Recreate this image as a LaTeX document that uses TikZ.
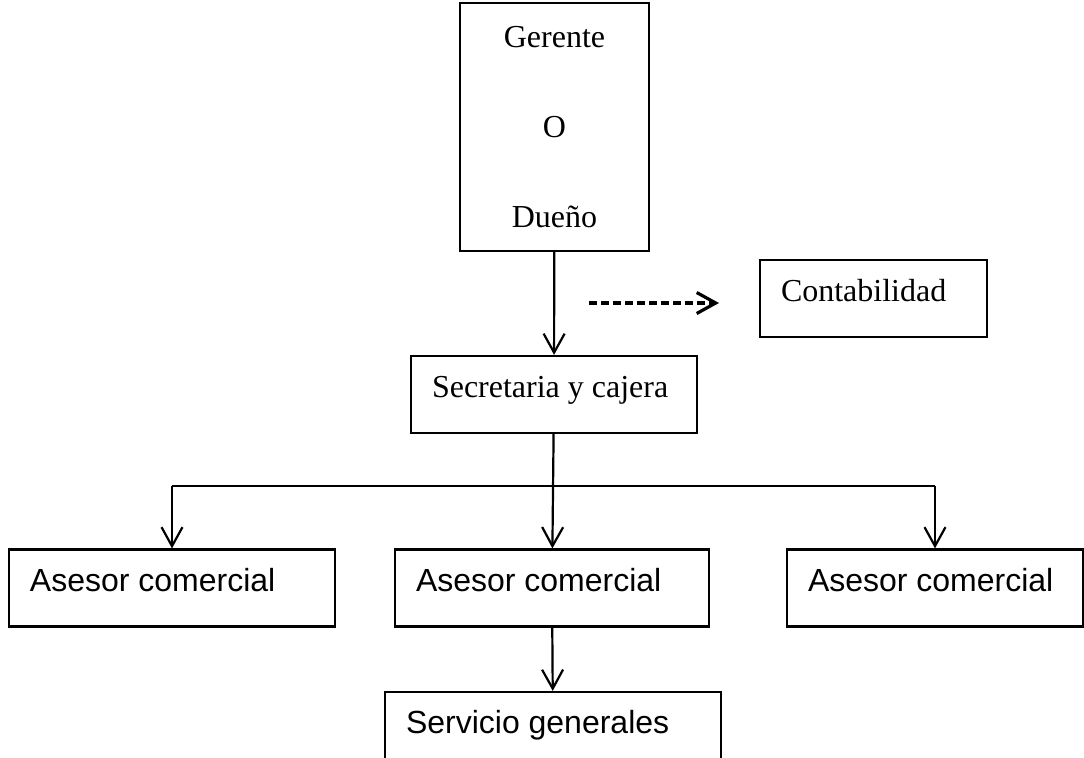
\documentclass[tikz,border=0pt]{standalone}
\usepackage{fontspec}
\setmainfont{Liberation Serif}
\newfontfamily\arialfont{Liberation Sans}
\usetikzlibrary{arrows.meta}
\begin{document}
\begin{tikzpicture}[x=0.5pt,y=-0.5pt,line width=1.1pt,
  box/.style={draw,rectangle,minimum height=38.5pt,inner xsep=10.5pt,align=flush left,
    text height=12pt,text depth=9pt},
  serifbox/.style={box,font=\fontsize{16}{19}\selectfont},
  sansbox/.style={box,font=\arialfont\fontsize{16}{19}\selectfont},
  arr/.style={-{Straight Barb[length=9.5pt,width=10.5pt]}}]
   \clip (0,0) rectangle (1084,757);
   % jefe
   \node[draw,rectangle,minimum width=94.5pt,minimum height=124pt,align=center,
     font=\fontsize{16}{45}\selectfont] (ger) at (554.5,127) {Gerente\\O\\Dueño};
   \node[serifbox,text width=92.5pt] (cont) at (873.5,298.5) {Contabilidad};
   \node[serifbox,text width=122pt] (sec) at (554,394.5) {Secretaria y cajera};
   % asesores
   \node[sansbox,text width=142pt] (as1) at (172,588) {Asesor comercial};
   \node[sansbox,text width=136pt] (as2) at (552,588) {Asesor comercial};
   \node[sansbox,text width=127pt] (as3) at (935,588) {Asesor comercial};
   \node[sansbox,text width=147pt] (serv) at (553,730.5) {Servicio generales};
   \coordinate (bus) at (0,486);
   \coordinate (d1) at (589,303);
   \coordinate (d2) at (719,303);
   \draw[arr] (ger) -- (sec);
   \draw[arr,dash pattern=on 4pt off 2pt,line width=1.6pt] (d1) -- (d2);
   \draw[arr] (sec) -- (as2);
   \draw (as1.north |- bus) -- (as3.north |- bus);
   \draw[arr] (as1.north |- bus) -- (as1.north);
   \draw[arr] (as3.north |- bus) -- (as3.north);
   \draw[arr] (as2) -- (serv);
\end{tikzpicture}
\end{document}
